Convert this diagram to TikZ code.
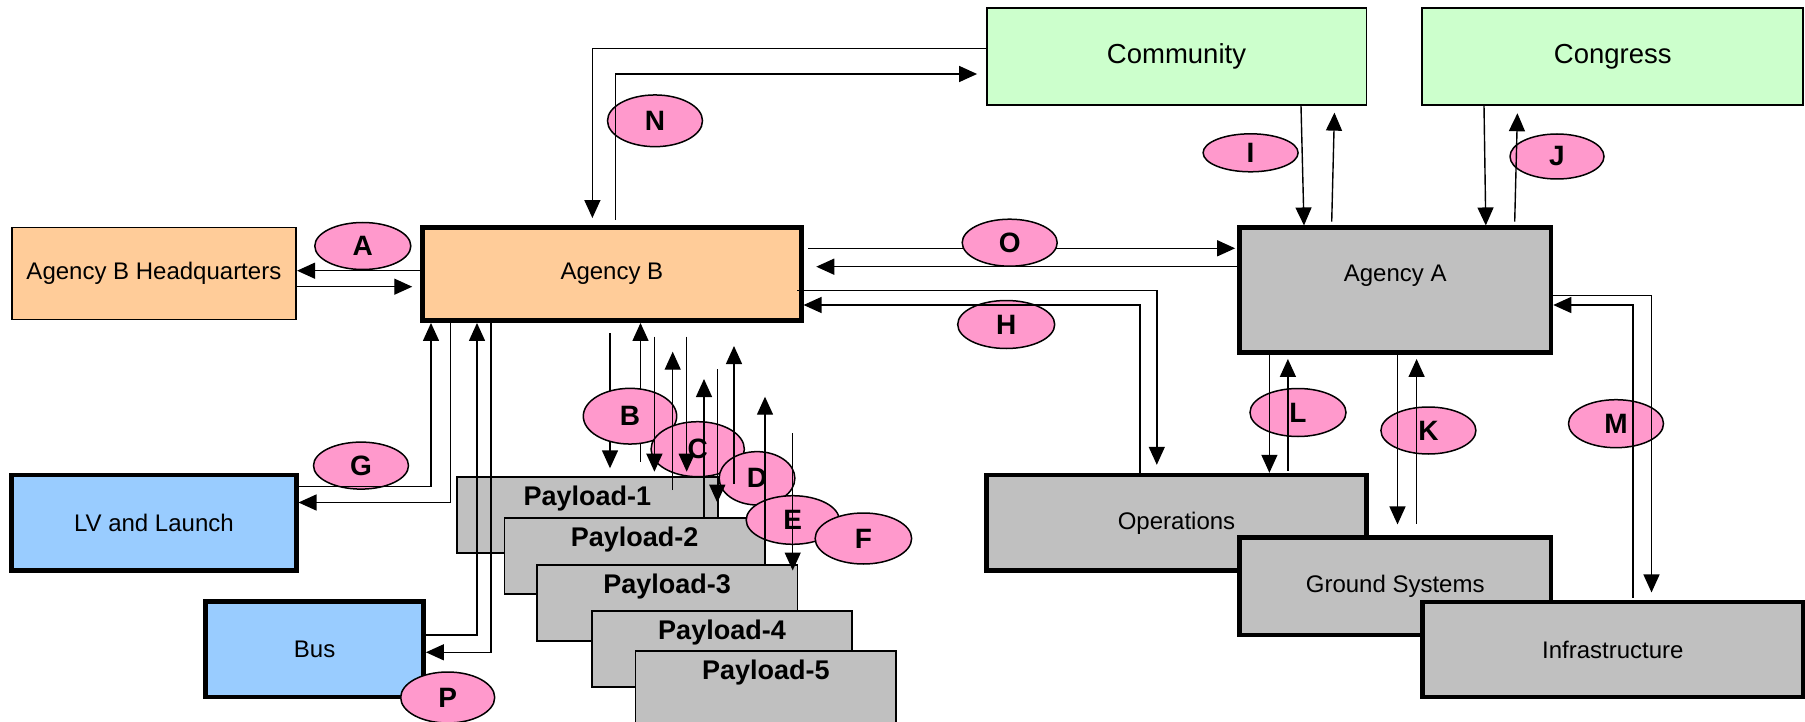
\documentclass[tikz,border=0pt]{standalone}
\usepackage{fontspec}
\setmainfont{Liberation Sans}
\usetikzlibrary{arrows.meta,shapes.geometric}
\definecolor{cOrange}{HTML}{FFCC99}
\definecolor{cGreen}{HTML}{CCFFCC}
\definecolor{cBlue}{HTML}{99CCFF}
\definecolor{cGray}{HTML}{C0C0C0}
\definecolor{cPink}{HTML}{FF99CC}
\begin{document}
\begin{tikzpicture}[x=1pt,y=-1pt,
  box/.style={draw, rectangle, inner sep=0pt, line width=1.8pt, font=\fontsize{24}{28}\selectfont},
  thickbox/.style={box, line width=4.5pt},
  bigfont/.style={font=\fontsize{27.5}{30}\selectfont},
  pay/.style={draw, rectangle, fill=cGray, line width=1.8pt, minimum width=260.5pt, minimum height=76pt, inner sep=0pt},
  paytext/.style={font=\bfseries\fontsize{27}{30}\selectfont, anchor=base, inner sep=0pt},
  lab/.style={ellipse, draw, fill=cPink, line width=1.5pt, inner sep=0pt, font=\bfseries\fontsize{28}{30}\selectfont},
  conn/.style={line width=1.4pt},
  arr/.style={conn, -{Triangle[length=18pt,width=16pt]}},
]
\useasboundingbox (0,0) rectangle (1805,722);
\clip (0,0) rectangle (1805,722);

% boxes
\node[box, fill=cOrange, minimum width=284.5pt, minimum height=92pt] (hq) at (153.9,273.5) {Agency B Headquarters};
\node[thickbox, fill=cOrange, minimum width=378.8pt, minimum height=93.4pt] (agb) at (611.9,274) {Agency B};
\node[box, bigfont, fill=cGreen, minimum width=379.8pt, minimum height=96.7pt] (com) at (1176.5,56.7) {Community};
\node[box, bigfont, fill=cGreen, minimum width=381pt, minimum height=96.7pt] (cong) at (1612.8,56.7) {Congress};
\node[thickbox, fill=cGray, minimum width=311.6pt, minimum height=125pt] (aga) at (1395.2,290.2) {};
\node[anchor=base, inner sep=0pt, font=\fontsize{24}{28}\selectfont] (agatext) at (1395.2,281.7) {Agency A};
\node[thickbox, fill=cBlue, minimum width=284.7pt, minimum height=95.5pt] (lv) at (153.9,522.8) {LV and Launch};
\node[thickbox, fill=cBlue, minimum width=218.1pt, minimum height=95.6pt] (bus) at (314.6,649.2) {Bus};
\node[thickbox, fill=cGray, minimum width=379.8pt, minimum height=95.5pt] (ops) at (1176.5,522.8) {Operations};
\node[thickbox, fill=cGray, minimum width=311.6pt, minimum height=97.2pt] (gnd) at (1395.2,586.3) {Ground Systems};
\node[thickbox, fill=cGray, minimum width=381pt, minimum height=95pt] (inf) at (1612.8,649.5) {Infrastructure};

% payloads
\node[pay] (p1) at (587.4,515.2) {};
\node[paytext] (p1t) at (587.4,505.7) {Payload-1};
\node[pay] (p2) at (634.7,556.3) {};
\node[paytext] (p2t) at (634.7,546.8) {Payload-2};
\node[pay] (p3) at (667.2,603) {};
\node[paytext] (p3t) at (667.2,593.5) {Payload-3};
\node[pay] (p4) at (722,648.7) {};
\node[paytext] (p4t) at (722,639.2) {Payload-4};
\node[pay] (p5) at (765.8,688.7) {};
\node[paytext] (p5t) at (765.8,679.2) {Payload-5};

% labels under the lines
\node[lab, minimum width=96pt, minimum height=47pt] (eA) at (362.8,246) {A};
\node[lab, minimum width=95pt, minimum height=51.7pt] (eN) at (655,120.8) {N};
\node[lab, minimum width=95pt, minimum height=38pt] (eI) at (1250.6,152.8) {I};
\node[lab, minimum width=94pt, minimum height=45pt] (eJ) at (1557,156.5) {J};
\node[lab, minimum width=97pt, minimum height=48pt] (eH) at (1006.2,324.5) {H};
\node[lab, minimum width=95pt, minimum height=47pt] (eG) at (361,465.6) {G};
\node[lab, minimum width=96pt, minimum height=48pt] (eL) at (1298,412.5) {L};
\node[lab, minimum width=95pt, minimum height=47pt] (eK) at (1428.4,430.5) {K};
\node[lab, minimum width=95pt, minimum height=48pt] (eM) at (1616,423.7) {M};
\node[lab, minimum width=94pt, minimum height=51pt] (eP) at (447.7,697.5) {P};

% connectors
\draw[arr] (agb.west |- 0,270.7) -- (hq.east |- 0,270.7);
\draw[arr, shorten >=8pt] (hq.east |- 0,286.7) -- (agb.west |- 0,286.7);
\draw[arr, shorten >=7pt] (com.west |- 0,48.3) -| (agb.north -| 592.4,0);
\draw[arr, shorten >=8.6pt] (615.3,220) |- (com.west |- 0,74);
\draw[arr, shorten >=2pt] (808,248.3) -- (aga.west |- 0,248.3);
\draw[arr, shorten >=12.7pt] (aga.west |- 0,266.7) -- (agb.east |- 0,266.7);
\draw[arr, shorten >=8pt] (797,290.7) -| (ops.north -| 1156.8,0);
\draw[arr] (ops.north -| 1140.1,0) |- (agb.east |- 0,305);
\draw[arr] (com.south -| 1301,0) -- (aga.north -| 1304,0);
\draw[arr, shorten >=6.7pt] (1331.7,221.7) -- (com.south -| 1334.6,0);
\draw[arr] (cong.south -| 1484,0) -- (aga.north -| 1485.8,0);
\draw[arr, shorten >=7.3pt] (1514.7,221.7) -- (cong.south -| 1517.6,0);
\draw[arr] (1633,598) |- (aga.east |- 0,305);
\draw[arr, shorten >=7.3pt] (aga.east |- 0,295.7) -| (inf.north -| 1651.5,0);
\draw[arr] (aga.south -| 1269.4,0) -- (ops.north -| 1269.4,0);
\draw[arr, shorten >=4pt] (1287.9,470.6) -- (aga.south -| 1287.9,0);
\draw[arr, shorten >=11pt] (aga.south -| 1397.5,0) -- (gnd.north -| 1397.5,0);
\draw[arr, shorten >=4pt] (1416.6,523.6) -- (aga.south -| 1416.6,0);
\draw[arr] (lv.east |- 0,486.7) -| (agb.south -| 431,0);
\draw[arr] (agb.south -| 450.6,0) |- (lv.east |- 0,502.5);
\draw[arr] (bus.east |- 0,634.9) -| (agb.south -| 477,0);
\draw[arr] (agb.south -| 490.8,0) |- (bus.east |- 0,652.3);

% payload connectors
\draw[arr] (610,333) -- (610,468.3);
\draw[arr] (640.5,461.7) -- (agb.south -| 640.5,0);
\node[lab, minimum width=93.4pt, minimum height=55.7pt] (eB) at (630,416.2) {B};
\node[lab, minimum width=93.3pt, minimum height=55pt] (eC) at (697.7,449.2) {C};
\node[lab, minimum width=75.7pt, minimum height=53.3pt] (eD) at (757,478.3) {D};
\node[lab, minimum width=93pt, minimum height=48.6pt] (eE) at (792.7,520) {E};
\node[lab, minimum width=96.5pt, minimum height=51pt] (eF) at (863.4,538.5) {F};
\draw[arr] (654.4,336.7) -- (654.4,471.7);
\draw[arr] (672.7,490) -- (672.7,351.7);
\draw[arr] (686.7,336.7) -- (686.7,471.7);
\draw[arr] (704,517.6) -- (704,379);
\draw[arr] (717.3,369) -- (717.3,502.7);
\draw[arr] (734,484) -- (734,346);
\draw[arr] (765,549.4) -- (765,396.7);
\draw[arr] (792.7,433) -- (792.7,570.5);

% label over its line
\node[lab, minimum width=95pt, minimum height=47pt] (eO) at (1009.7,242.7) {O};
\end{tikzpicture}
\end{document}
